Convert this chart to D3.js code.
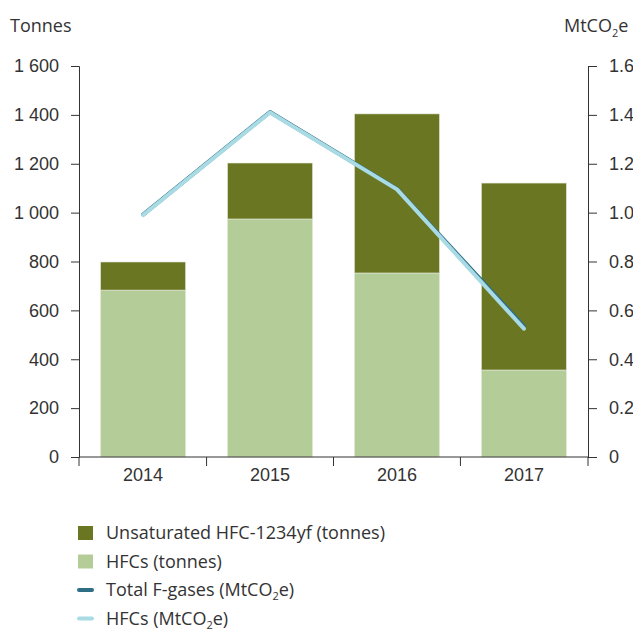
<!DOCTYPE html>
<html>
<head>
<meta charset="utf-8">
<script src="https://cdn.jsdelivr.net/npm/d3@7"></script>
<style>
  body { margin: 0; background: #fff; }
  svg { font-family: "Open Sans", sans-serif; }
  .axis text { font-size: 18px; fill: #333; }
  .axis path, .axis line { stroke: #333; }
</style>
</head>
<body>
<div id="chart"></div>
<script>
// data
const years = ['2014', '2015', '2016', '2017'];
const hfcTonnes = [683, 974, 753, 356];
const unsatTonnes = [115, 229, 651, 765];
const totalCO2 = [0.992, 1.412, 1.097, 0.535];
const hfcCO2 = [0.99, 1.41, 1.095, 0.525];
const leftTicks = [0, 200, 400, 600, 800, 1000, 1200, 1400, 1600];
const rightTicks = [0, 0.2, 0.4, 0.6, 0.8, 1.0, 1.2, 1.4, 1.6];
const legendLabels = ['Unsaturated HFC-1234yf (tonnes)', 'HFCs (tonnes)', 'Total F-gases (MtCO2e)', 'HFCs (MtCO2e)'];

const draw = () => {
    const colors = {
        unsat: '#6b7622',
        hfc: '#b4cd98',
        total: '#2f6f86',
        hfcLine: '#a9dbe5'
    };

    const dimensions = {
        width: 633,
        height: 631,
        margin: {top: 66, bottom: 174, left: 79, right: 45}
    };
    dimensions.containerWidth = dimensions.width - dimensions.margin.left - dimensions.margin.right;
    dimensions.containerHeight = dimensions.height - dimensions.margin.top - dimensions.margin.bottom;

    const svg = d3.select('#chart')
        .append('svg')
        .attr('width', dimensions.width)
        .attr('height', dimensions.height);

    const container = svg.append('g')
        .attr('transform', `translate(${dimensions.margin.left}, ${dimensions.margin.top})`);

    // scales
    const xScale = d3.scaleBand()
        .domain(years)
        .range([0, dimensions.containerWidth])
        .paddingInner(0.33)
        .paddingOuter(0.17);

    const yScale = d3.scaleLinear()
        .domain([0, 1600])
        .range([dimensions.containerHeight, 0]);

    const y2Scale = d3.scaleLinear()
        .domain([0, 1.6])
        .range([dimensions.containerHeight, 0]);

    // stacked bars
    const rows = years.map((year, i) => ({year, hfc: hfcTonnes[i], unsat: unsatTonnes[i]}));
    const stack = d3.stack().keys(['hfc', 'unsat'])(rows);

    container.selectAll('g.layer')
        .data(stack)
        .join('g')
        .attr('class', 'layer')
        .attr('fill', d => colors[d.key])
        .selectAll('rect')
        .data(d => d)
        .join('rect')
        .attr('x', d => xScale(d.data.year))
        .attr('y', d => yScale(d[1]))
        .attr('width', xScale.bandwidth())
        .attr('height', d => yScale(d[0]) - yScale(d[1]))
        .attr('stroke', '#e4e9da')
        .attr('stroke-width', 0.6);

    // lines
    const lineGen = d3.line()
        .x((d, i) => xScale(years[i]) + xScale.bandwidth() / 2)
        .y(d => y2Scale(d));

    container.append('path')
        .datum(totalCO2)
        .attr('d', lineGen)
        .attr('fill', 'none')
        .attr('stroke', colors.total)
        .attr('stroke-width', 4)
        .attr('stroke-linecap', 'round')
        .attr('stroke-linejoin', 'round');

    container.append('path')
        .datum(hfcCO2)
        .attr('d', lineGen)
        .attr('fill', 'none')
        .attr('stroke', colors.hfcLine)
        .attr('stroke-width', 4)
        .attr('stroke-linecap', 'round')
        .attr('stroke-linejoin', 'round');

    // axes
    const locale = d3.formatLocale({decimal: '.', thousands: '\u00a0', grouping: [3], currency: ['', '']});
    const leftFormat = locale.format(',d');

    const yAxis = d3.axisLeft(yScale)
        .tickValues(leftTicks)
        .tickFormat(leftFormat)
        .tickSize(8)
        .tickPadding(12);

    container.append('g')
        .call(yAxis)
        .classed('axis', true);

    const y2Axis = d3.axisRight(y2Scale)
        .tickValues(rightTicks)
        .tickFormat(d => d === 0 ? '0' : d3.format('.1f')(d))
        .tickSize(9)
        .tickPadding(12);

    container.append('g')
        .attr('transform', `translate(${dimensions.containerWidth}, 0)`)
        .call(y2Axis)
        .classed('axis', true);

    const xAxis = d3.axisBottom(xScale)
        .tickSize(0)
        .tickPadding(11);

    const xAxisGroup = container.append('g')
        .attr('transform', `translate(0, ${dimensions.containerHeight})`)
        .call(xAxis)
        .classed('axis', true);
    xAxisGroup.select('.domain').remove();

    // baseline + boundary ticks
    const bounds = years.map(y => xScale(y) - xScale.step() * xScale.paddingInner() / 2)
        .concat([dimensions.containerWidth]);
    bounds[0] = 0;
    xAxisGroup.append('line')
        .attr('x1', 0)
        .attr('x2', dimensions.containerWidth)
        .attr('stroke', '#333');
    xAxisGroup.selectAll('line.bound')
        .data(bounds)
        .join('line')
        .attr('class', 'bound')
        .attr('x1', d => d)
        .attr('x2', d => d)
        .attr('y1', 0)
        .attr('y2', 9)
        .attr('stroke', '#333');

    // unit labels
    svg.append('text')
        .attr('x', 10)
        .attr('y', 32)
        .attr('font-size', 18)
        .attr('fill', '#333')
        .text('Tonnes');

    const unit = svg.append('text')
        .attr('x', 564)
        .attr('y', 32)
        .attr('font-size', 18)
        .attr('fill', '#333');
    unit.append('tspan').text('MtCO');
    unit.append('tspan').attr('font-size', 11).attr('dy', 5).text('2');
    unit.append('tspan').attr('dy', -5).text('e');

    // legend
    const legend = svg.append('g')
        .attr('transform', 'translate(78, 533)');
    const legendKeys = ['unsat', 'hfc', 'total', 'hfcLine'];

    const items = legend.selectAll('g')
        .data(legendKeys)
        .join('g')
        .attr('transform', (d, i) => `translate(0, ${i * 28.5})`);

    items.filter((d, i) => i < 2)
        .append('rect')
        .attr('x', 0)
        .attr('y', -7)
        .attr('width', 15)
        .attr('height', 14)
        .attr('fill', d => colors[d]);

    items.filter((d, i) => i >= 2)
        .append('line')
        .attr('x1', 1)
        .attr('x2', 14)
        .attr('stroke', d => colors[d])
        .attr('stroke-width', 4)
        .attr('stroke-linecap', 'round');

    items.each(function (d, i) {
        const t = d3.select(this).append('text')
            .attr('x', 28)
            .attr('y', 6)
            .attr('font-size', 18)
            .attr('fill', '#333');
        const label = legendLabels[i];
        if (label.includes('CO2')) {
            const [a, b] = label.split('CO2');
            t.append('tspan').text(a + 'CO');
            t.append('tspan').attr('font-size', 11).attr('dy', 4).text('2');
            t.append('tspan').attr('dy', -4).text(b);
        } else {
            t.text(label);
        }
    });
};

draw();
</script>
</body>
</html>
